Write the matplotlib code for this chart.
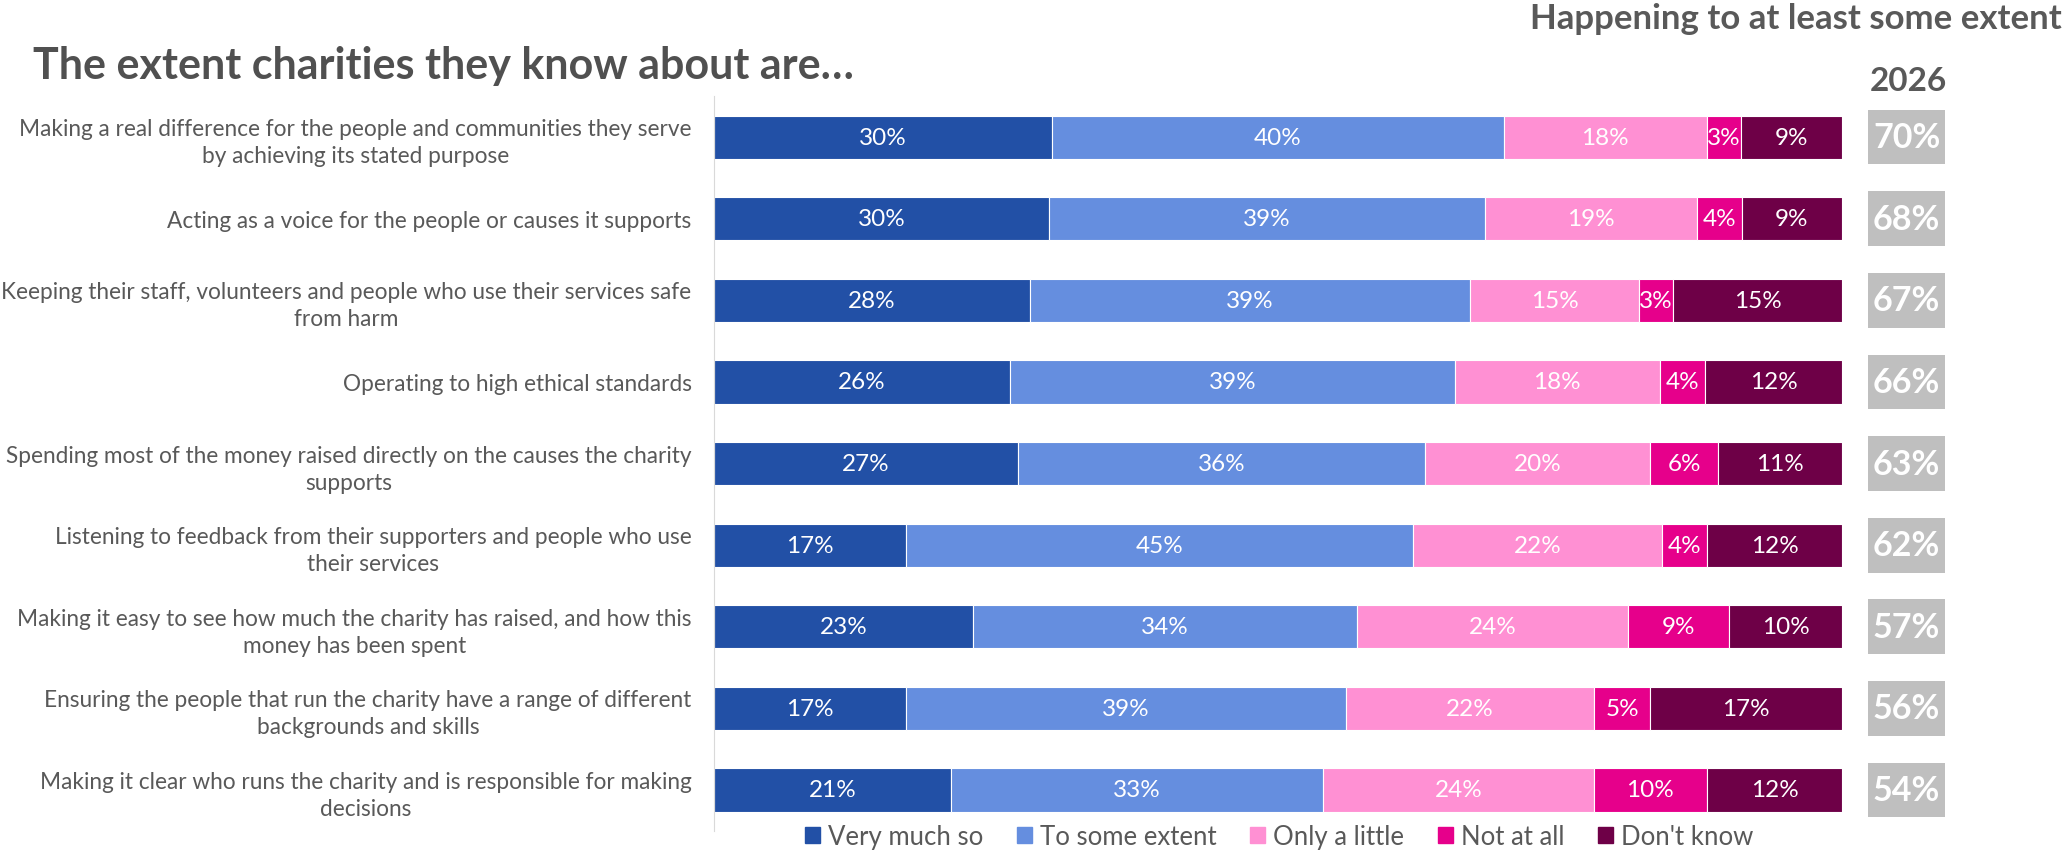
import numpy as np
import matplotlib
matplotlib.use("Agg")
from matplotlib import pyplot as plt
from matplotlib.patches import Patch

plt.rcParams['font.family'] = ['Lato', 'DejaVu Sans']

statements = [
    "Making a real difference for the people and communities they serve\nby achieving its stated purpose",
    "Acting as a voice for the people or causes it supports",
    "Keeping their staff, volunteers and people who use their services safe\nfrom harm",
    "Operating to high ethical standards",
    "Spending most of the money raised directly on the causes the charity\nsupports",
    "Listening to feedback from their supporters and people who use\ntheir services",
    "Making it easy to see how much the charity has raised, and how this\nmoney has been spent",
    "Ensuring the people that run the charity have a range of different\nbackgrounds and skills",
    "Making it clear who runs the charity and is responsible for making\ndecisions",
]
answers = ["Very much so", "To some extent", "Only a little", "Not at all", "Don't know"]
very_much = [30, 30, 28, 26, 27, 17, 23, 17, 21]
some_extent = [40, 39, 39, 39, 36, 45, 34, 39, 33]
only_little = [18, 19, 15, 18, 20, 22, 24, 22, 24]
not_at_all = [3, 4, 3, 4, 6, 4, 9, 5, 10]
dont_know = [9, 9, 15, 12, 11, 12, 10, 17, 12]
at_least_some = [70, 68, 67, 66, 63, 62, 57, 56, 54]

colors = ["#2250A6", "#658EDF", "#FF90D3", "#E6008B", "#6E0047"]
text_grey = "#595959"

vals = np.array([very_much, some_extent, only_little, not_at_all, dont_know], dtype=float)
shares = vals / vals.sum(axis=0) * 100  # rows scaled to fill 100%
y = np.arange(len(statements))

fig = plt.figure(figsize=(20.63, 8.54), dpi=100)
ax = fig.add_axes([0.346, 0.026, 0.547, 0.86])

left = np.zeros(len(statements))
for i in range(len(answers)):
    ax.barh(y, shares[i], left=left, height=0.53, color=colors[i],
            edgecolor="white", linewidth=0.8, label=answers[i])
    for j in range(len(statements)):
        ax.text(left[j] + shares[i][j] / 2, y[j], "%d%%" % vals[i][j],
                ha="center", va="center", color="white", fontsize=17.5)
    left += shares[i]

ax.set_xlim(0, 100)
ax.set_ylim(len(statements) - 0.5, -0.5)
ax.set_yticks(y)
ax.set_yticklabels(statements, fontsize=16.3, color=text_grey, multialignment="center")
for lbl in ax.get_yticklabels():
    lbl.set_linespacing(1.35)
ax.tick_params(axis="y", length=0, pad=16)
ax.set_xticks([])
for s in ["top", "right", "bottom"]:
    ax.spines[s].set_visible(False)
ax.spines["left"].set_color("#D9D9D9")

# grey summary boxes on the right
ax2 = fig.add_axes([0.9055, 0.026, 0.0373, 0.86])
ax2.barh(y, [1] * len(y), height=0.67, color="#BFBFBF")
for j in range(len(y)):
    ax2.text(0.5, y[j], "%d%%" % at_least_some[j], ha="center", va="center",
             color="white", fontsize=24.5, fontweight="bold")
ax2.set_xlim(0, 1)
ax2.set_ylim(len(statements) - 0.5, -0.5)
ax2.axis("off")

fig.text(0.016, 0.923, "The extent charities they know about are…", fontsize=31,
         fontweight="bold", color="#505050", va="center")
fig.text(0.9995, 0.978, "Happening to at least some extent", fontsize=25,
         fontweight="bold", color=text_grey, ha="right", va="center")
fig.text(0.925, 0.904, "2026", fontsize=24, fontweight="bold", color=text_grey,
         ha="center", va="center")

handles = [Patch(color=c) for c in colors]
fig.legend(handles, answers, loc="center", bbox_to_anchor=(0.62, 0.019), ncol=5,
           frameon=False, fontsize=18.5, handlelength=0.6, handleheight=0.6,
           handletextpad=0.3, columnspacing=1.3, labelcolor=text_grey)

fig.savefig("out.png", dpi=100)
